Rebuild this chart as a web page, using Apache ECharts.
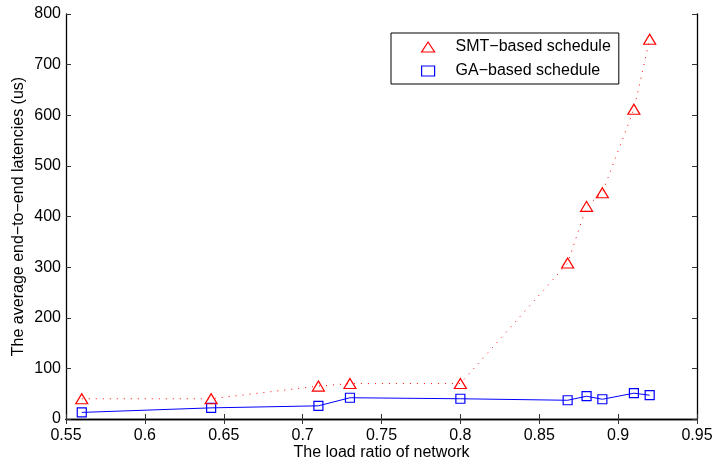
<!DOCTYPE html>
<html>
<head>
<meta charset="utf-8">
<script src="https://cdn.jsdelivr.net/npm/echarts@6/dist/echarts.min.js"></script>
<style>
  html, body { margin: 0; padding: 0; background: #fff; }
  #chart { width: 714px; height: 464px; }
</style>
</head>
<body>
<div id="chart"></div>
<script>
// Data
var loadRatio = [0.56, 0.642, 0.71, 0.73, 0.80, 0.868, 0.88, 0.89, 0.91, 0.92];
var smtLatency = [40, 40, 65, 70, 70, 308, 420, 447, 612, 750];
var gaLatency = [13, 22, 26, 42, 40, 37, 45, 39, 51, 47];
var seriesNames = ['SMT\u2212based schedule', 'GA\u2212based schedule'];

function pairs(xs, ys) {
    return xs.map(function (x, i) { return [x, ys[i]]; });
}

var font = 'Liberation Sans, Arial, Helvetica, sans-serif';
var axisLine = { show: true, lineStyle: { color: '#000', width: 1.3 } };
var axisTick = { show: true, inside: true, length: 5, lineStyle: { color: '#333', width: 1 } };

var myChart = echarts.init(document.getElementById('chart'));

var option = {
    animation: false,
    textStyle: { fontFamily: font },
    grid: { left: 66, right: 17, top: 14, bottom: 45, containLabel: false, outerBoundsMode: 'none' },
    legend: {
        orient: 'vertical',
        left: 391,
        top: 33,
        padding: [5, 8, 4, 30],
        itemGap: 6,
        itemWidth: 13,
        itemHeight: 10,
        borderColor: '#000',
        borderWidth: 1,
        backgroundColor: '#fff',
        textStyle: { fontSize: 16, color: '#000', fontFamily: font, lineHeight: 18, padding: [0, 0, 0, 16] },
        data: [
            { name: seriesNames[0], icon: 'triangle', itemStyle: { color: 'transparent', borderColor: '#ff0000', borderWidth: 1.2 } },
            { name: seriesNames[1], icon: 'rect', itemStyle: { color: 'transparent', borderColor: '#0000ff', borderWidth: 1.2 } }
        ]
    },
    xAxis: [{
        type: 'value',
        min: 0.55,
        max: 0.95,
        interval: 0.05,
        name: 'The load ratio of network',
        nameLocation: 'middle',
        nameGap: 26,
        nameMoveOverlap: false,
        nameTextStyle: { fontSize: 16, color: '#000' },
        axisLine: axisLine,
        axisTick: axisTick,
        axisLabel: {
            fontSize: 16, color: '#000', margin: 9,
            formatter: function (v) { return +v.toFixed(2) + ''; }
        },
        splitLine: { show: false }
    }, {
        type: 'value',
        position: 'top',
        min: 0.55,
        max: 0.95,
        interval: 0.05,
        axisLine: axisLine,
        axisTick: axisTick,
        axisLabel: { show: false },
        splitLine: { show: false }
    }],
    yAxis: [{
        type: 'value',
        min: 0,
        max: 800,
        interval: 100,
        name: 'The average end\u2212to\u2212end latencies (us)',
        nameLocation: 'middle',
        nameGap: 39,
        nameMoveOverlap: false,
        nameTextStyle: { fontSize: 16, color: '#000' },
        axisLine: axisLine,
        axisTick: axisTick,
        axisLabel: { fontSize: 16, color: '#000', margin: 5 },
        splitLine: { show: false }
    }, {
        type: 'value',
        position: 'right',
        min: 0,
        max: 800,
        interval: 100,
        axisLine: axisLine,
        axisTick: axisTick,
        axisLabel: { show: false },
        splitLine: { show: false }
    }],
    series: [{
        name: seriesNames[0],
        type: 'line',
        data: pairs(loadRatio, smtLatency),
        symbol: 'triangle',
        symbolSize: [12, 10],
        showSymbol: true,
        itemStyle: { color: 'transparent', borderColor: '#ff0000', borderWidth: 1.2 },
        lineStyle: { color: '#ff0000', width: 1, type: [1, 6] },
        z: 3
    }, {
        name: seriesNames[1],
        type: 'line',
        data: pairs(loadRatio, gaLatency),
        symbol: 'rect',
        symbolSize: 9,
        showSymbol: true,
        itemStyle: { color: 'transparent', borderColor: '#0000ff', borderWidth: 1.2 },
        lineStyle: { color: '#0000ff', width: 1 },
        z: 2
    }]
};

myChart.setOption(option);
</script>
</body>
</html>
